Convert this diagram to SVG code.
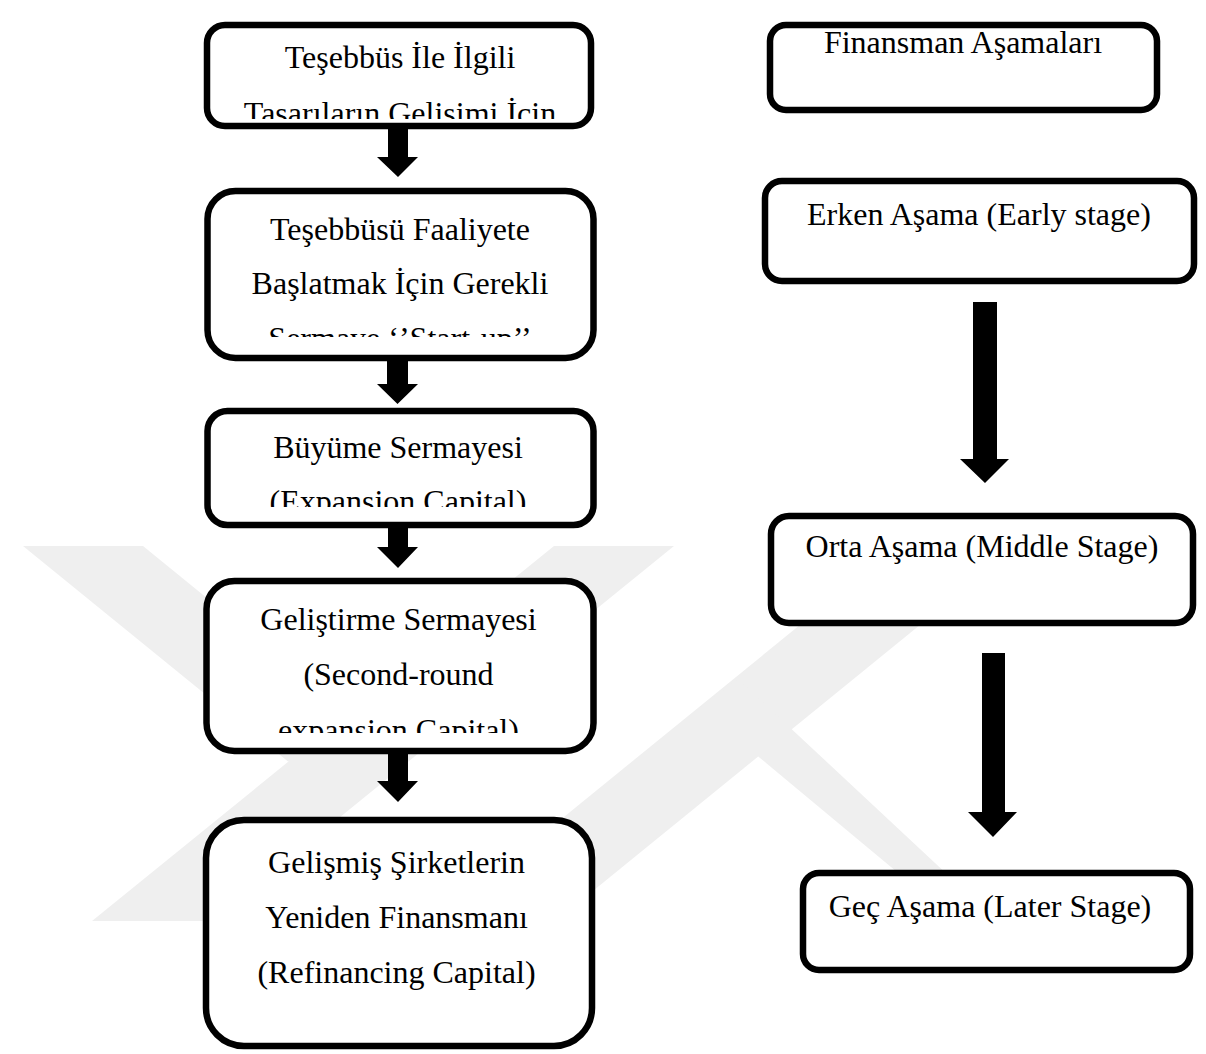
<svg xmlns="http://www.w3.org/2000/svg" width="1206" height="1054" viewBox="0 0 1206 1054">
<style>
.box{fill:#ffffff;stroke:#000000;stroke-width:6.5}
.t{font-family:"Liberation Serif","Times New Roman",serif;font-size:32px;fill:#000000;text-anchor:middle}
.arrow{fill:#000000}
.wm{fill:#efefef}
</style>
<defs>
<clipPath id="c1"><rect x="200" y="20" width="400" height="99"/></clipPath>
<clipPath id="c2"><rect x="200" y="185" width="400" height="152"/></clipPath>
<clipPath id="c3"><rect x="200" y="405" width="400" height="102"/></clipPath>
<clipPath id="c4"><rect x="200" y="575" width="400" height="158"/></clipPath>
</defs>
<rect width="1206" height="1054" fill="#ffffff"/>
<g id="watermark">
<polygon class="wm" points="23,546 143,546 408,761.5 288,761.5"/>
<polygon class="wm" points="92,921 212,921 674,546 554,546"/>
<polygon class="wm" points="436,921 556,921 1017,546 897,546"/>
<polygon class="wm" points="700,708 738,679 950,877 903,877"/>
</g>
<g id="connectors">
<polygon class="arrow" points="388,128 408,128 408,157 418,157 398,177 377,157 388,157"/>
<polygon class="arrow" points="387,360 408,360 408,384 418,384 397.5,404 377,384 387,384"/>
<polygon class="arrow" points="388,527 408,527 408,547 418,547 398,568 377,547 388,547"/>
<polygon class="arrow" points="388,753 408,753 408,781 418,781 398,802 377,781 388,781"/>
<polygon class="arrow" points="973,302 997,302 997,459 1009,459 985,483 960,459 973,459"/>
<polygon class="arrow" points="982,653 1005,653 1005,812 1017,812 993,837 968,812 982,812"/>
</g>
<g id="node1">
<rect class="box" x="207" y="25" width="384" height="101" rx="18" ry="18"/>
<g clip-path="url(#c1)">
<text class="t" x="400" y="68">Teşebbüs İle İlgili</text>
<text class="t" x="400" y="124">Tasarıların Gelişimi İçin</text>
</g>
</g>
<g id="node2">
<rect class="box" x="207.5" y="191" width="386" height="167" rx="28" ry="28"/>
<g clip-path="url(#c2)">
<text class="t" x="400" y="240">Teşebbüsü Faaliyete</text>
<text class="t" x="400" y="294">Başlatmak İçin Gerekli</text>
<text class="t" x="400" y="349">Sermaye ‘’Start-up’’</text>
</g>
</g>
<g id="node3">
<rect class="box" x="207.5" y="411" width="386" height="114" rx="20" ry="20"/>
<g clip-path="url(#c3)">
<text class="t" x="398" y="458">Büyüme Sermayesi</text>
<text class="t" x="398" y="512">(Expansion Capital)</text>
</g>
</g>
<g id="node4">
<rect class="box" x="206.5" y="581" width="387" height="170" rx="28" ry="28"/>
<g clip-path="url(#c4)">
<text class="t" x="398.5" y="630">Geliştirme Sermayesi</text>
<text class="t" x="398.5" y="685">(Second-round</text>
<text class="t" x="398.5" y="741">expansion Capital)</text>
</g>
</g>
<g id="node5">
<rect class="box" x="206" y="820" width="386" height="226" rx="38" ry="38"/>
<text class="t" x="396.5" y="873">Gelişmiş Şirketlerin</text>
<text class="t" x="396.5" y="928">Yeniden Finansmanı</text>
<text class="t" x="396.5" y="983">(Refinancing Capital)</text>
</g>
<g id="nodeR1">
<rect class="box" x="770" y="25" width="387" height="85" rx="16" ry="16"/>
<text class="t" x="963" y="53">Finansman Aşamaları</text>
</g>
<g id="nodeR2">
<rect class="box" x="765" y="181" width="429" height="100" rx="17" ry="17"/>
<text class="t" x="979" y="225">Erken Aşama (Early stage)</text>
</g>
<g id="nodeR3">
<rect class="box" x="771" y="516" width="422" height="107" rx="18" ry="18"/>
<text class="t" x="982" y="557">Orta Aşama (Middle Stage)</text>
</g>
<g id="nodeR4">
<rect class="box" x="803" y="873" width="387" height="97" rx="16" ry="16"/>
<text class="t" x="990" y="917">Geç Aşama (Later Stage)</text>
</g>
</svg>
